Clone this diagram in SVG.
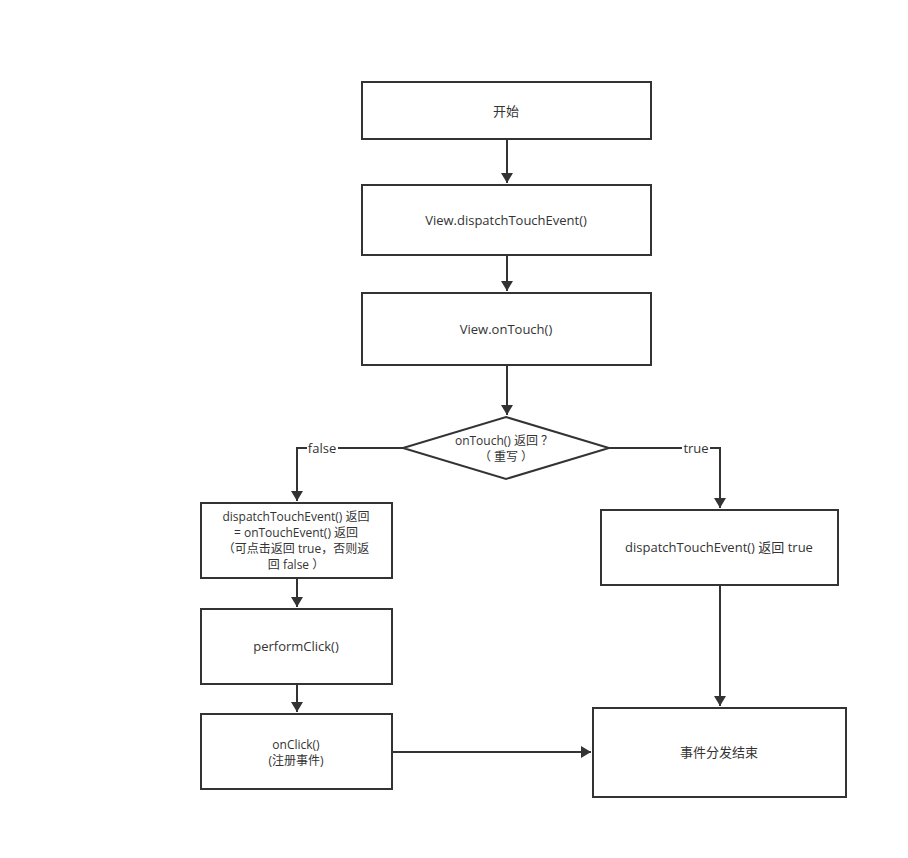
<svg xmlns="http://www.w3.org/2000/svg" width="908" height="858" viewBox="0 0 908 858">
<style>
.box{fill:#fff;stroke:#333;stroke-width:2}
.t{font-family:"Open Sans","Noto Sans CJK SC",sans-serif;font-size:13px;fill:#333;text-anchor:middle;dominant-baseline:central}
.s{font-size:12px}
.c{fill:none;stroke:#333;stroke-width:2}
.lbl{font-family:"Open Sans","Noto Sans CJK SC",sans-serif;font-size:13px;fill:#333;text-anchor:middle;dominant-baseline:central}
</style>
<defs>
<marker id="ah" markerWidth="10" markerHeight="12" refX="10" refY="6" orient="auto" markerUnits="userSpaceOnUse">
<path d="M0,0 L10,6 L0,12 Z" fill="#333"/>
</marker>
</defs>
<rect width="908" height="858" fill="#fff"/>
<g id="connectors">
<path class="c" d="M507,139 V183" marker-end="url(#ah)"/>
<path class="c" d="M507,255 V291" marker-end="url(#ah)"/>
<path class="c" d="M507,365 V415" marker-end="url(#ah)"/>
<path class="c" d="M403,448 H297 V501" marker-end="url(#ah)"/>
<path class="c" d="M609,448 H720 V508" marker-end="url(#ah)"/>
<path class="c" d="M297,578 V607" marker-end="url(#ah)"/>
<path class="c" d="M297,684 V712" marker-end="url(#ah)"/>
<path class="c" d="M720,585 V706" marker-end="url(#ah)"/>
<path class="c" d="M392,752 H591" marker-end="url(#ah)"/>
<rect x="307" y="440" width="31" height="16" fill="#fff"/>
<text class="lbl" x="322" y="448">false</text>
<rect x="682" y="440" width="28" height="16" fill="#fff"/>
<text class="lbl" x="696" y="448">true</text>
</g>
<g id="start">
<rect class="box" x="362" y="82" width="289" height="57"/>
<text class="t" x="506" y="111">开始</text>
</g>
<g id="dispatch">
<rect class="box" x="362" y="185" width="289" height="70"/>
<text class="t" x="506" y="220">View.dispatchTouchEvent()</text>
</g>
<g id="ontouch">
<rect class="box" x="362" y="293" width="289" height="72"/>
<text class="t" x="506" y="329">View.onTouch()</text>
</g>
<g id="decision">
<polygon class="box" points="506,417 609,448 506,479 403,448"/>
<text class="t s"><tspan x="504" y="440">onTouch() 返回 ？</tspan><tspan x="506" y="456">（ 重写 ）</tspan></text>
</g>
<g id="falsebox">
<rect class="box" x="201" y="503" width="191" height="75"/>
<text class="t s"><tspan x="296" y="516">dispatchTouchEvent() 返回</tspan><tspan x="296" y="532">= onTouchEvent() 返回</tspan><tspan x="296" y="548">（可点击返回 true，否则返</tspan><tspan x="296" y="564">回 false ）</tspan></text>
</g>
<g id="perform">
<rect class="box" x="201" y="609" width="191" height="75"/>
<text class="t" x="296" y="646">performClick()</text>
</g>
<g id="onclick">
<rect class="box" x="201" y="714" width="191" height="75"/>
<text class="t s"><tspan x="296" y="744">onClick()</tspan><tspan x="296" y="760">(注册事件)</tspan></text>
</g>
<g id="truebox">
<rect class="box" x="601" y="510" width="237" height="75"/>
<text class="t" x="719" y="547">dispatchTouchEvent() 返回 true</text>
</g>
<g id="end">
<rect class="box" x="593" y="708" width="253" height="89"/>
<text class="t" x="719" y="752">事件分发结束</text>
</g>
</svg>
